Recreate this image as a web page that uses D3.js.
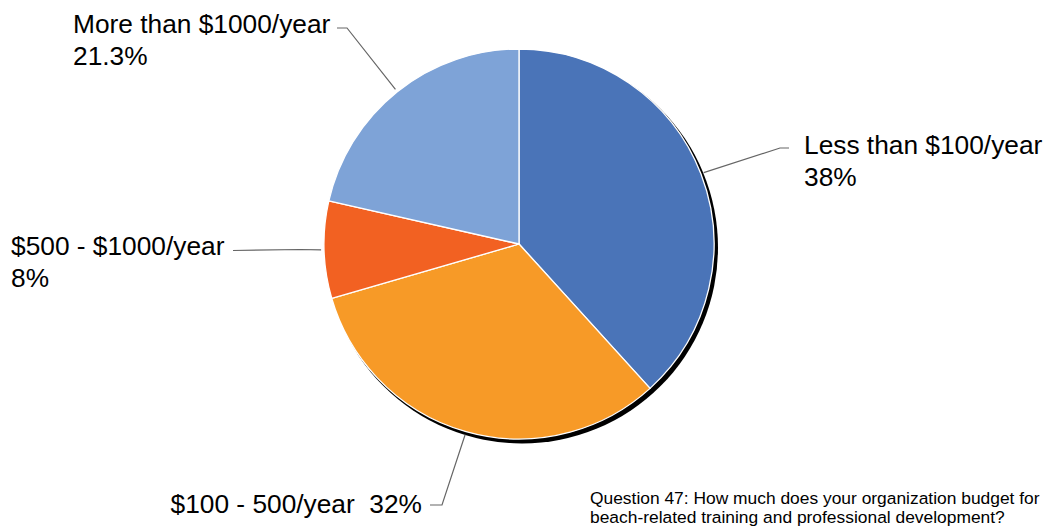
<!DOCTYPE html>
<html>
<head>
<meta charset="utf-8">
<script src="https://cdn.jsdelivr.net/npm/d3@7"></script>
<style>
  html, body { margin: 0; padding: 0; background: #fff; }
  svg { display: block; }
  text { font-family: "Liberation Sans", Arial, sans-serif; fill: #000; }
</style>
</head>
<body>
<svg id="chart" width="1047" height="531"></svg>
<script>
// Budget categories, clockwise from 12 o'clock
const categories = ["Less than $100/year", "$100 - 500/year", "$500 - $1000/year", "More than $1000/year"];
const values = [38, 32, 8, 21.3];
const valueLabels = ["38%", "32%", "8%", "21.3%"];
const colors = ["#4a74b8", "#f79a27", "#f26122", "#7ea3d7"];
const caption = ["Question 47: How much does your organization budget for",
                 "beach-related training and professional development?"];

const svg = d3.select("#chart");
const cx = 519, cy = 244, radius = 195;

const pie = d3.pie().sort(null).value(d => d.value);
const arc = d3.arc().innerRadius(0).outerRadius(radius);
const data = categories.map((c, i) => ({ name: c, value: values[i], label: valueLabels[i], color: colors[i] }));
const arcs = pie(data);

const defs = svg.append("defs");
defs.append("filter").attr("id", "soft")
  .append("feGaussianBlur").attr("stdDeviation", 0.5);

const g = svg.append("g").attr("transform", `translate(${cx},${cy})`);

// drop shadow behind the pie
g.append("circle")
  .attr("cx", 3).attr("cy", 3.5).attr("r", radius + 1)
  .attr("fill", "#000")
  .attr("filter", "url(#soft)");

g.selectAll("path.slice")
  .data(arcs)
  .join("path")
  .attr("class", "slice")
  .attr("d", arc)
  .attr("fill", d => d.data.color)
  .attr("stroke", "#fff")
  .attr("stroke-width", 1.3)
  .attr("stroke-linejoin", "round");

// leader lines: from slice mid-angle on the rim, via an elbow, to the label
const rimPoint = (d, r) => {
  const a = (d.startAngle + d.endAngle) / 2;
  return [cx + r * Math.sin(a), cy - r * Math.cos(a)];
};

const leaders = [
  { i: 0, elbow: [780, 148], end: [789, 148] },
  { i: 1, elbow: [442, 505], end: [430, 505] },
  { i: 2, elbow: [300, 249.5], end: [233, 250.5] },
  { i: 3, elbow: [347, 28], end: [337, 28] }
];

const line = d3.line();
svg.append("g")
  .selectAll("path")
  .data(leaders)
  .join("path")
  .attr("d", l => line([rimPoint(arcs[l.i], radius + 3), l.elbow, l.end]))
  .attr("fill", "none")
  .attr("stroke", "#666")
  .attr("stroke-width", 1.2);

// slice labels
const labelFont = 26.3;
const labels = [
  { i: 0, x: 804, y: 154, lines: [categories[0], valueLabels[0]] },
  { i: 2, x: 11, y: 255, lines: [categories[2], valueLabels[2]] },
  { i: 3, x: 73, y: 33, lines: [categories[3], valueLabels[3]] }
];

labels.forEach(l => {
  const t = svg.append("text")
    .attr("x", l.x).attr("y", l.y)
    .attr("font-size", labelFont);
  l.lines.forEach((s, k) => {
    t.append("tspan").attr("x", l.x).attr("dy", k === 0 ? 0 : 32).text(s);
  });
});

svg.append("text")
  .attr("x", 422).attr("y", 513)
  .attr("font-size", labelFont)
  .attr("text-anchor", "end")
  .text(categories[1] + "\u00a0\u00a0" + valueLabels[1]);

// question caption
const cap = svg.append("text")
  .attr("x", 590).attr("y", 504)
  .attr("font-size", 17.4);
caption.forEach((s, k) => {
  cap.append("tspan").attr("x", 590).attr("dy", k === 0 ? 0 : 19).text(s);
});
</script>
</body>
</html>
